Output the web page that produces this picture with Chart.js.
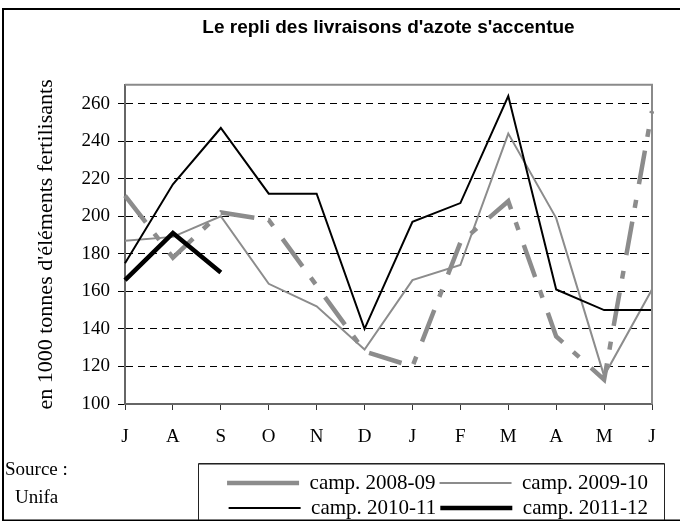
<!DOCTYPE html>
<html><head><meta charset="utf-8">
<script src="https://cdn.jsdelivr.net/npm/chart.js@4"></script>
<style>html,body{margin:0;padding:0;background:#fff}canvas{display:block}</style>
</head><body>
<canvas id="c" width="680" height="522"></canvas>
<script>
const months = ['J','A','S','O','N','D','J','F','M','A','M','J'];
const camp0809 = [211, 178, 202, 198, 163, 128, 120, 186, 208, 136, 113, 256];
const camp0910 = [187, 189, 200, 164, 152, 129, 166, 174, 244, 199, 115, 161];
const camp1011 = [175, 217, 247, 212, 212, 140, 197, 207, 264, 161, 150, 150];
const camp1112 = [166, 191, 170];
const seriesLabels = ['camp. 2008-09', 'camp. 2009-10', 'camp. 2010-11', 'camp. 2011-12'];
const yTicks = [100, 120, 140, 160, 180, 200, 220, 240, 260];
const chartTitle = "Le repli des livraisons d'azote s'accentue";
const yTitle = "en 1000 tonnes d'éléments fertilisants";
const sourceLines = ['Source :', 'Unifa'];

const SERIF = "'Liberation Serif','Times New Roman',serif";

const deco = {
  id: 'deco',
  afterLayout(chart) {
    const lg = chart.legend;
    if (lg) { lg.top += 6.5; lg.bottom += 6.5; }
  },
  afterDraw(chart) {
    const ctx = chart.ctx, a = chart.chartArea;
    ctx.save();
    // plot frame top / right
    ctx.strokeStyle = '#8a8a8a'; ctx.lineWidth = 2;
    ctx.beginPath();
    ctx.moveTo(a.left, a.top); ctx.lineTo(a.right, a.top); ctx.lineTo(a.right, a.bottom);
    ctx.stroke();
    // outer frame
    ctx.strokeStyle = '#000'; ctx.lineWidth = 2;
    ctx.beginPath();
    ctx.moveTo(680, 9); ctx.lineTo(3, 9); ctx.lineTo(3, 521);
    ctx.stroke();
    ctx.lineWidth = 1.5;
    ctx.beginPath(); ctx.moveTo(2, 520.25); ctx.lineTo(680, 520.25); ctx.stroke();
    // legend frame
    ctx.lineWidth = 1; ctx.strokeStyle = '#222';
    ctx.beginPath();
    ctx.moveTo(198.5, 520); ctx.lineTo(198.5, 463.5); ctx.lineTo(664.5, 463.5); ctx.lineTo(664.5, 520);
    ctx.stroke();
    ctx.strokeStyle = '#888'; ctx.lineWidth = 1;
    ctx.beginPath(); ctx.moveTo(199, 464.5); ctx.lineTo(664, 464.5); ctx.stroke();
    // source
    ctx.fillStyle = '#000';
    ctx.font = "19px " + SERIF;
    ctx.textBaseline = 'middle'; ctx.textAlign = 'left';
    ctx.fillText(sourceLines[0], 5, 470);
    ctx.fillText(sourceLines[1], 15, 498);
    ctx.restore();
  }
};

new Chart(document.getElementById('c'), {
  type: 'line',
  data: {
    labels: months,
    datasets: [
      { label: seriesLabels[0], data: camp0809, borderColor: '#8c8c8c', borderWidth: 4.5,
        borderDash: [34, 14, 8, 16], borderCapStyle: 'butt', order: 4 },
      { label: seriesLabels[1], data: camp0910, borderColor: '#8c8c8c', borderWidth: 2, order: 3 },
      { label: seriesLabels[2], data: camp1011, borderColor: '#000', borderWidth: 2, order: 2 },
      { label: seriesLabels[3], data: camp1112, borderColor: '#000', borderWidth: 4.5, order: 1 }
    ]
  },
  options: {
    responsive: false,
    animation: false,
    layout: { padding: { left: 20, right: 28, top: 0, bottom: 0 } },
    elements: { point: { radius: 0, hoverRadius: 0 }, line: { tension: 0, fill: false } },
    plugins: {
      tooltip: { enabled: false },
      title: {
        display: true, text: chartTitle, fullSize: false, color: '#000',
        font: { family: "'Liberation Sans',Arial,sans-serif", size: 19, weight: 'bold' },
        padding: { top: 16, bottom: 46 }
      },
      legend: {
        position: 'bottom', align: 'end', fullSize: false,
        labels: {
          usePointStyle: true, pointStyle: 'line', pointStyleWidth: 72, boxHeight: 21,
          font: { family: SERIF, size: 21 }, color: '#000', padding: 4,
          sort: (a, b) => a.datasetIndex - b.datasetIndex
        }
      }
    },
    scales: {
      x: {
        offset: false,
        afterFit: s => { s.height = 58; },
        ticks: { font: { family: SERIF, size: 19 }, color: '#000', padding: 16, maxRotation: 0, autoSkip: false },
        grid: { drawOnChartArea: false, drawTicks: true, tickLength: 6, tickColor: '#333', color: '#333' },
        border: { display: true, color: '#666', width: 2 }
      },
      y: {
        min: 100, max: 270,
        afterBuildTicks: s => { s.ticks = yTicks.map(v => ({ value: v })); },
        afterFit: s => { s.width = 105; },
        ticks: { font: { family: SERIF, size: 19 }, color: '#000', padding: 8 },
        grid: {
          color: c => (c.tick && c.tick.value === 100) ? 'rgba(0,0,0,0)' : '#000',
          lineWidth: 1, tickLength: 7, tickColor: '#000', drawTicks: true
        },
        border: { display: true, color: '#666', width: 2, dash: [7, 5] },
        title: { display: true, text: yTitle, color: '#000', font: { family: SERIF, size: 22 }, padding: { top: 13, bottom: 0 } }
      }
    }
  },
  plugins: [deco]
});
</script>
</body></html>
